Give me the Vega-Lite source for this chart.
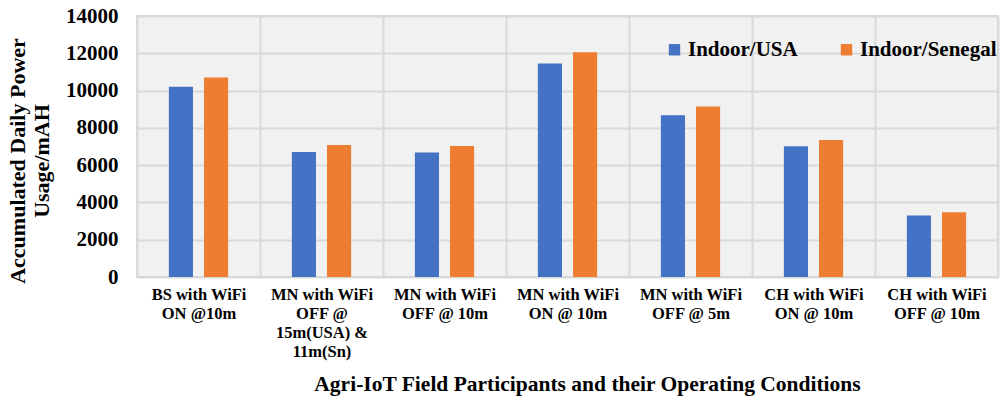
{
  "$schema": "https://vega.github.io/schema/vega-lite/v6.json",
  "width": 861,
  "height": 261,
  "autosize": "none",
  "padding": {"left": 137, "top": 16, "right": 2, "bottom": 125},
  "background": "white",
  "config": {
    "font": "Liberation Serif",
    "view": {"fill": "#f1f1f1", "stroke": "#d9d9d9", "strokeWidth": 2}
  },
  "data": {
    "values": [
      {"condition": "BS with WiFi\nON @10m", "series": "Indoor/USA", "value": 10200},
      {"condition": "BS with WiFi\nON @10m", "series": "Indoor/Senegal", "value": 10700},
      {"condition": "MN with WiFi\nOFF @\n15m(USA) &\n11m(Sn)", "series": "Indoor/USA", "value": 6700},
      {"condition": "MN with WiFi\nOFF @\n15m(USA) &\n11m(Sn)", "series": "Indoor/Senegal", "value": 7080},
      {"condition": "MN with WiFi\nOFF @ 10m", "series": "Indoor/USA", "value": 6680},
      {"condition": "MN with WiFi\nOFF @ 10m", "series": "Indoor/Senegal", "value": 7030},
      {"condition": "MN with WiFi\nON @ 10m", "series": "Indoor/USA", "value": 11450},
      {"condition": "MN with WiFi\nON @ 10m", "series": "Indoor/Senegal", "value": 12050},
      {"condition": "MN with WiFi\nOFF @ 5m", "series": "Indoor/USA", "value": 8680},
      {"condition": "MN with WiFi\nOFF @ 5m", "series": "Indoor/Senegal", "value": 9150},
      {"condition": "CH with WiFi\nON @ 10m", "series": "Indoor/USA", "value": 7020},
      {"condition": "CH with WiFi\nON @ 10m", "series": "Indoor/Senegal", "value": 7350},
      {"condition": "CH with WiFi\nOFF @ 10m", "series": "Indoor/USA", "value": 3300},
      {"condition": "CH with WiFi\nOFF @ 10m", "series": "Indoor/Senegal", "value": 3470}
    ]
  },
  "mark": {"type": "bar"},
  "encoding": {
    "x": {
      "field": "condition",
      "type": "nominal",
      "sort": null,
      "scale": {"paddingInner": 0, "paddingOuter": 0},
      "axis": {
        "title": "Agri-IoT Field Participants and their Operating Conditions",
        "labelAngle": 0,
        "labelExpr": "split(datum.label, '\\n')",
        "labelFont": "Liberation Serif",
        "labelFontSize": 16.5,
        "labelFontWeight": "bold",
        "labelColor": "black",
        "labelLineHeight": 19,
        "labelPadding": 9,
        "labelOverlap": false,
        "labelLimit": 200,
        "ticks": false,
        "domain": false,
        "grid": true,
        "gridColor": "#d9d9d9",
        "gridWidth": 2,
        "tickBand": "extent",
        "titleFont": "Liberation Serif",
        "titleFontSize": 21.5,
        "titleFontWeight": "bold",
        "titleColor": "black",
        "titleX": 450,
        "titleAlign": "center",
        "titleY": 107,
        "titleBaseline": "middle"
      }
    },
    "xOffset": {
      "field": "series",
      "sort": null,
      "scale": {"paddingInner": 0.314, "paddingOuter": 0.907}
    },
    "y": {
      "field": "value",
      "type": "quantitative",
      "scale": {"domain": [0, 14000]},
      "axis": {
        "values": [0, 2000, 4000, 6000, 8000, 10000, 12000, 14000],
        "format": "d",
        "title": ["Accumulated Daily Power", "Usage/mAH"],
        "labelFont": "Liberation Serif",
        "labelFontSize": 21,
        "labelFontWeight": "bold",
        "labelColor": "black",
        "labelPadding": 19,
        "ticks": false,
        "domain": false,
        "gridColor": "#d9d9d9",
        "gridWidth": 2,
        "titleFont": "Liberation Serif",
        "titleFontSize": 22,
        "titleFontWeight": "bold",
        "titleColor": "black",
        "titlePadding": 12,
        "titleLineHeight": 24,
        "titleY": 144.5,
        "titleAlign": "center"
      }
    },
    "color": {
      "field": "series",
      "type": "nominal",
      "sort": null,
      "scale": {"domain": ["Indoor/USA", "Indoor/Senegal"], "range": ["#4472C4", "#ED7D31"]},
      "legend": {
        "title": null,
        "orient": "none",
        "direction": "horizontal",
        "legendX": 527,
        "legendY": 23,
        "symbolType": "square",
        "symbolSize": 130,
        "symbolStrokeWidth": 0,
        "labelFont": "Liberation Serif",
        "labelFontSize": 21,
        "labelFontWeight": "bold",
        "labelColor": "black",
        "labelOffset": 3,
        "columnPadding": 38,
        "labelLimit": 300
      }
    }
  }
}
